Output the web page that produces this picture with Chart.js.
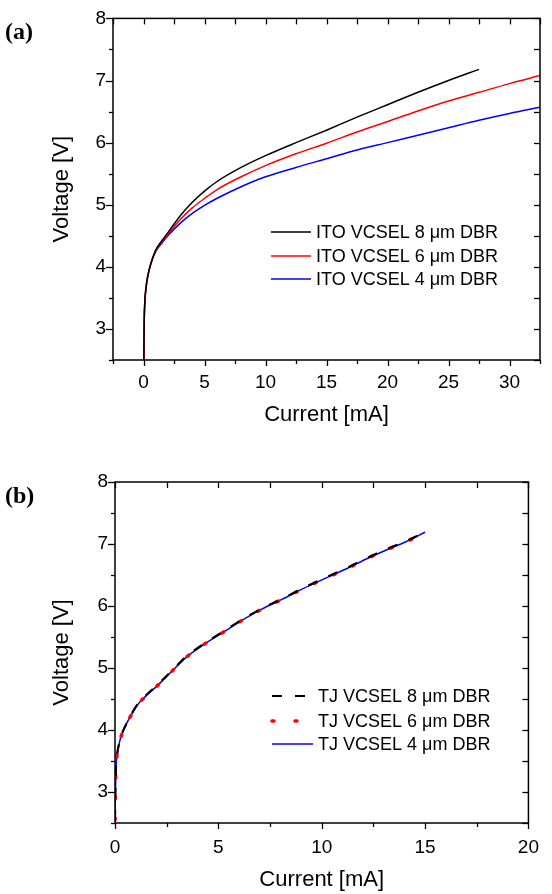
<!DOCTYPE html>
<html>
<head>
<meta charset="utf-8">
<script src="https://cdn.jsdelivr.net/npm/chart.js@4.4.0/dist/chart.umd.min.js"></script>
<style>
  html, body { margin: 0; padding: 0; background: #fff; }
  canvas { display: block; }
</style>
</head>
<body>
<canvas id="chartA" width="552" height="447"></canvas>
<canvas id="chartB" width="552" height="447"></canvas>
<script>
// panel (a): ITO VCSELs
const itoLabels = ['ITO VCSEL 8 \u03bcm DBR', 'ITO VCSEL 6 \u03bcm DBR', 'ITO VCSEL 4 \u03bcm DBR'];
const itoCurrent8 = [0.03, 0.05, 0.1, 0.2, 0.35, 0.6, 1, 1.5, 2, 3, 4, 5, 6, 8, 10, 12.5, 15, 17.5, 20, 22.5, 25, 27.5];
const itoVoltage8 = [2.5, 3.0, 3.4, 3.65, 3.85, 4.05, 4.27, 4.42, 4.55, 4.82, 5.04, 5.22, 5.37, 5.6, 5.79, 6.0, 6.2, 6.41, 6.61, 6.81, 7.0, 7.18];
const itoCurrent = [0.03, 0.05, 0.1, 0.2, 0.35, 0.6, 1, 1.5, 2, 3, 4, 5, 6, 8, 10, 12.5, 15, 17.5, 20, 22.5, 25, 27.5, 30, 32.5];
const itoVoltage6 = [2.5, 3.0, 3.4, 3.65, 3.85, 4.05, 4.26, 4.4, 4.52, 4.76, 4.95, 5.1, 5.24, 5.45, 5.63, 5.82, 5.99, 6.17, 6.34, 6.51, 6.67, 6.81, 6.95, 7.08];
const itoVoltage4 = [2.5, 3.0, 3.4, 3.65, 3.85, 4.05, 4.25, 4.38, 4.5, 4.7, 4.86, 4.99, 5.1, 5.29, 5.45, 5.6, 5.74, 5.88, 6.0, 6.12, 6.24, 6.36, 6.47, 6.57];
const itoCurrentTicks = [0, 5, 10, 15, 20, 25, 30];

// panel (b): TJ VCSELs
const tjLabels = ['TJ VCSEL 8 \u03bcm DBR', 'TJ VCSEL 6 \u03bcm DBR', 'TJ VCSEL 4 \u03bcm DBR'];
const tjCurrent = [0, 0.02, 0.05, 0.1, 0.2, 0.35, 0.55, 0.8, 1.1, 1.5, 2, 2.7, 3.4, 4.3, 5.2, 6.2, 7.1, 8.1, 9.1, 10.2, 11.2, 12.1, 13.1, 14.1, 15.0];
const tjCurrent6 = [0, 0.02, 0.05, 0.1, 0.2, 0.35, 0.55, 0.8, 1.1, 1.5, 2, 2.7, 3.4, 4.3, 5.2, 6.2, 7.1, 8.1, 9.1, 10.2, 11.2, 12.1, 13.1, 14.1, 15.15];
const tjVoltage8 = [2.55, 3.0, 3.4, 3.6, 3.78, 3.95, 4.1, 4.26, 4.42, 4.56, 4.71, 4.94, 5.17, 5.39, 5.58, 5.79, 5.96, 6.12, 6.29, 6.46, 6.61, 6.76, 6.91, 7.05, 7.19];
const tjVoltage6 = [2.55, 3.0, 3.4, 3.6, 3.78, 3.95, 4.1, 4.25, 4.41, 4.55, 4.7, 4.93, 5.16, 5.38, 5.57, 5.78, 5.95, 6.11, 6.28, 6.45, 6.6, 6.75, 6.9, 7.04, 7.2];
const tjVoltage4 = [2.55, 3.0, 3.4, 3.6, 3.78, 3.95, 4.1, 4.25, 4.41, 4.55, 4.7, 4.93, 5.16, 5.38, 5.57, 5.78, 5.95, 6.11, 6.28, 6.45, 6.6, 6.75, 6.9, 7.04, 7.19];
const tjCurrentTicks = [0, 5, 10, 15, 20];

const voltageTicks = [3, 4, 5, 6, 7, 8];

const FONT = "'Liberation Sans', Arial, sans-serif";

function pts(xs, ys) {
    return xs.map(function (x, i) { return { x: x, y: ys[i] }; });
}

// box + mirrored tick marks (out on bottom/left, in on top/right)
const frameTicks = {
    id: 'frameTicks',
    afterDraw(chart, args, opts) {
        const ctx = chart.ctx;
        const a = chart.chartArea;
        const sx = chart.scales.x, sy = chart.scales.y;
        ctx.save();
        ctx.strokeStyle = '#000';
        ctx.lineWidth = 1.5;
        ctx.strokeRect(a.left, a.top, a.right - a.left, a.bottom - a.top);
        ctx.lineWidth = 1.3;
        function seg(x1, y1, x2, y2) {
            ctx.beginPath();
            ctx.moveTo(x1, y1);
            ctx.lineTo(x2, y2);
            ctx.stroke();
        }
        function isMajor(v, step) {
            return Math.abs(v / step - Math.round(v / step)) < 1e-6;
        }
        for (let v = sx.min; v <= sx.max + 1e-9; v += opts.xMinor) {
            const p = Math.round(sx.getPixelForValue(v)) + 0.5;
            seg(p, a.bottom, p, a.bottom + (isMajor(v, opts.xMajor) ? 6 : 4));
            seg(p, a.top, p, a.top + 6);
        }
        for (let v = sy.min; v <= sy.max + 1e-9; v += opts.yMinor) {
            const p = Math.round(sy.getPixelForValue(v)) + 0.5;
            seg(a.left, p, a.left - (isMajor(v, opts.yMajor) ? 7 : 4), p);
            seg(a.right, p, a.right - 6, p);
        }
        ctx.restore();
    }
};

// legend inside the plot + panel letter
const insideLegend = {
    id: 'insideLegend',
    afterDraw(chart, args, opts) {
        const ctx = chart.ctx;
        ctx.save();
        ctx.font = '18px ' + FONT;
        ctx.textBaseline = 'middle';
        ctx.textAlign = 'left';
        chart.data.datasets.forEach(function (ds, i) {
            const y = opts.rows[i];
            ctx.strokeStyle = ds.borderColor;
            ctx.lineWidth = ds.borderWidth;
            ctx.lineCap = ds.borderCapStyle || 'butt';
            ctx.setLineDash(ds.legendDash || []);
            ctx.beginPath();
            ctx.moveTo(opts.lineX1, y);
            ctx.lineTo(opts.lineX2, y);
            ctx.stroke();
            ctx.setLineDash([]);
            ctx.fillStyle = '#000';
            ctx.fillText(ds.label, opts.textX, y + 1);
        });
        ctx.font = "bold 24px 'Liberation Serif', 'Times New Roman', serif";
        ctx.fillText(opts.panel, 5, opts.panelY);
        ctx.restore();
    }
};

function makeOptions(xMin, xMax, xTicks, yWidth, xHeight, pad, titlePadX, tickPadX, legend) {
    return {
        responsive: false,
        animation: false,
        layout: { padding: pad },
        elements: { point: { radius: 0 } },
        plugins: {
            legend: { display: false },
            tooltip: { enabled: false },
            frameTicks: { xMinor: 2.5, xMajor: 5, yMinor: 0.5, yMajor: 1 },
            insideLegend: legend
        },
        scales: {
            x: {
                type: 'linear',
                min: xMin,
                max: xMax,
                grid: { display: false, drawTicks: false },
                border: { display: false },
                afterBuildTicks: function (s) {
                    s.ticks = xTicks.map(function (v) { return { value: v }; });
                },
                ticks: {
                    color: '#000',
                    padding: tickPadX,
                    font: { family: FONT, size: 19 },
                    maxRotation: 0,
                    autoSkip: false
                },
                title: {
                    display: true,
                    text: 'Current [mA]',
                    color: '#000',
                    font: { family: FONT, size: 22 },
                    padding: { top: 0, bottom: titlePadX }
                },
                afterFit: function (s) { s.height = xHeight; }
            },
            y: {
                type: 'linear',
                min: 2.5,
                max: 8,
                grid: { display: false, drawTicks: false },
                border: { display: false },
                afterBuildTicks: function (s) {
                    s.ticks = voltageTicks.map(function (v) { return { value: v }; });
                },
                ticks: {
                    color: '#000',
                    padding: 7,
                    font: { family: FONT, size: 19 },
                    autoSkip: false
                },
                title: {
                    display: true,
                    text: 'Voltage [V]',
                    color: '#000',
                    font: { family: FONT, size: 22 },
                    padding: { top: 49, bottom: 0 }
                },
                afterFit: function (s) { s.width = yWidth; }
            }
        }
    };
}

function renderChartA() {
    const data = {
        datasets: [{
            label: itoLabels[0],
            data: pts(itoCurrent8, itoVoltage8),
            borderColor: '#000000',
            borderWidth: 1.5,
            showLine: true,
            cubicInterpolationMode: 'monotone'
        }, {
            label: itoLabels[1],
            data: pts(itoCurrent, itoVoltage6),
            borderColor: '#ff0000',
            borderWidth: 1.5,
            showLine: true,
            cubicInterpolationMode: 'monotone'
        }, {
            label: itoLabels[2],
            data: pts(itoCurrent, itoVoltage4),
            borderColor: '#0000ff',
            borderWidth: 1.5,
            showLine: true,
            cubicInterpolationMode: 'monotone'
        }]
    };
    const legend = { lineX1: 271, lineX2: 311, textX: 316, rows: [232, 256, 279], panel: '(a)', panelY: 33 };
    new Chart(document.getElementById('chartA'), {
        type: 'scatter',
        data: data,
        options: makeOptions(-2.5, 32.5, itoCurrentTicks, 113, 87, { top: 15, right: 12 }, 19, 11, legend),
        plugins: [frameTicks, insideLegend]
    });
}

function renderChartB() {
    const data = {
        datasets: [{
            label: tjLabels[0],
            data: pts(tjCurrent, tjVoltage8),
            borderColor: '#000000',
            borderWidth: 2.2,
            borderDash: [10, 12],
            legendDash: [10, 13],
            showLine: true,
            cubicInterpolationMode: 'monotone'
        }, {
            label: tjLabels[1],
            data: pts(tjCurrent6, tjVoltage6),
            borderColor: '#ff0000',
            borderWidth: 3.5,
            borderDash: [2, 19],
            legendDash: [2, 21],
            borderCapStyle: 'round',
            showLine: true,
            cubicInterpolationMode: 'monotone'
        }, {
            label: tjLabels[2],
            data: pts(tjCurrent, tjVoltage4),
            borderColor: '#0000ff',
            borderWidth: 1.5,
            showLine: true,
            cubicInterpolationMode: 'monotone'
        }]
    };
    const legend = { lineX1: 272, lineX2: 313, textX: 318, rows: [249, 274, 297], panel: '(b)', panelY: 50 };
    new Chart(document.getElementById('chartB'), {
        type: 'scatter',
        data: data,
        options: makeOptions(0, 20, tjCurrentTicks, 115, 71, { top: 35, right: 13 }, 1, 13, legend),
        plugins: [frameTicks, insideLegend]
    });
}

renderChartA();
renderChartB();
</script>
</body>
</html>
